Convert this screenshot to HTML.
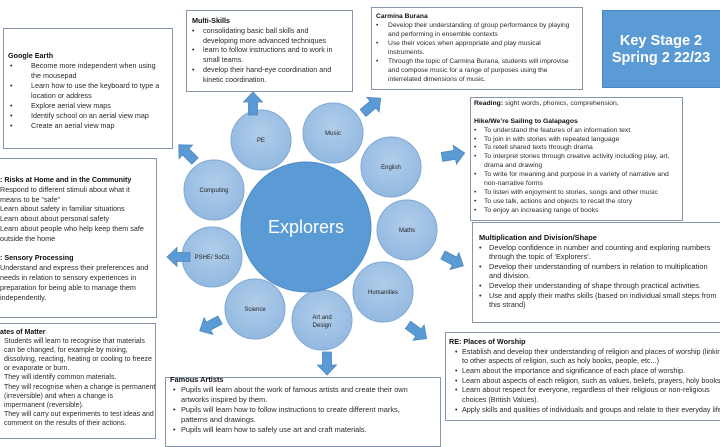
<!DOCTYPE html>
<html><head><meta charset="utf-8"><style>
*{margin:0;padding:0;box-sizing:border-box}
body{width:720px;height:440px;overflow:hidden;background:#fff;position:relative;font-family:"Liberation Sans",sans-serif;color:#222}
.b{position:absolute;border:1.3px solid #8796ad;background:#fff}
.t{position:absolute;font-size:7.2px;white-space:nowrap;color:#2a2a2a}
.t div{position:relative;height:var(--lh);line-height:var(--lh)}
.t .u::before{content:"•";position:absolute;left:var(--bl)}
.t b{font-weight:bold;color:#111}
svg{position:absolute;left:0;top:0}
</style></head><body>

<div class="b" style="left:3px;top:28px;width:170px;height:121px"></div>
<div class="b" style="left:186px;top:10px;width:167px;height:82px"></div>
<div class="b" style="left:371px;top:7px;width:212px;height:83px"></div>
<div class="b" style="left:470px;top:97px;width:213px;height:124px"></div>
<div class="b" style="left:-5px;top:158px;width:162px;height:160px"></div>
<div class="b" style="left:472px;top:222px;width:260px;height:101px"></div>
<div class="b" style="left:-5px;top:323px;width:161px;height:116px"></div>
<div class="b" style="left:165px;top:377px;width:276px;height:70px"></div>
<div class="b" style="left:445px;top:332px;width:290px;height:89px"></div>
<div style="position:absolute;left:602px;top:10px;width:130px;height:78px;background:#5b9bd5;border:1px solid #4a86bf"></div>
<div style="position:absolute;left:602px;top:33px;width:130px;text-align:center;padding-right:12px;color:#fff;font-weight:bold;font-size:14.5px;line-height:17px">Key Stage 2<br>Spring 2 22/23</div>

<div class="t" style="left:8px;top:51px;--lh:10px;--bl:0px">
<div><b>Google Earth</b></div>
<div class="u" style="padding-left:23px;--bl:2px">Become more independent when using</div>
<div style="padding-left:23px">the mousepad</div>
<div class="u" style="padding-left:23px;--bl:2px">Learn how to use the keyboard to type a</div>
<div style="padding-left:23px">location or address</div>
<div class="u" style="padding-left:23px;--bl:2px">Explore aerial view maps</div>
<div class="u" style="padding-left:23px;--bl:2px">Identify school on an aerial view map</div>
<div class="u" style="padding-left:23px;--bl:2px">Create an aerial view map</div>
</div>

<div class="t" style="left:192px;top:16px;--lh:9.8px;--bl:0px">
<div><b>Multi-Skills</b></div>
<div class="u" style="padding-left:11px">consolidating basic ball skills and</div>
<div style="padding-left:11px">developing more advanced techniques</div>
<div class="u" style="padding-left:11px">learn to follow instructions and to work in</div>
<div style="padding-left:11px">small teams.</div>
<div class="u" style="padding-left:11px">develop their hand-eye coordination and</div>
<div style="padding-left:11px">kinetic coordination.</div>
</div>

<div class="t" style="left:376px;top:12px;--lh:9px;--bl:0px;font-size:6.7px">
<div><b>Carmina Burana</b></div>
<div class="u" style="padding-left:12px">Develop their understanding of group performance by playing</div>
<div style="padding-left:12px">and performing in ensemble contexts</div>
<div class="u" style="padding-left:12px">Use their voices when appropriate and play musical</div>
<div style="padding-left:12px">instruments.</div>
<div class="u" style="padding-left:12px">Through the topic of Carmina Burana, students will improvise</div>
<div style="padding-left:12px">and compose music for a range of purposes using the</div>
<div style="padding-left:12px">interrelated dimensions of music.</div>
</div>

<div class="t" style="left:474px;top:100px;--lh:8.9px;--bl:0px;font-size:6.8px">
<div><b>Reading:</b> sight words, phonics, comprehension,</div>
<div></div>
<div><b>Hike/We’re Sailing to Galapagos</b></div>
<div class="u" style="padding-left:10px">To understand the features of an information text</div>
<div class="u" style="padding-left:10px">To join in with stories with repeated language</div>
<div class="u" style="padding-left:10px">To retell shared texts through drama</div>
<div class="u" style="padding-left:10px">To interpret stories through creative activity including play, art,</div>
<div style="padding-left:10px">drama and drawing</div>
<div class="u" style="padding-left:10px">To write for meaning and purpose in a variety of narrative and</div>
<div style="padding-left:10px">non-narrative forms</div>
<div class="u" style="padding-left:10px">To listen with enjoyment to stories, songs and other music</div>
<div class="u" style="padding-left:10px">To use talk, actions and objects to recall the story</div>
<div class="u" style="padding-left:10px">To enjoy an increasing range of books</div>
</div>

<div class="t" style="left:0px;top:175px;--lh:9.8px;--bl:-8px">
<div><b>: Risks at Home and in the Community</b></div>
<div class="u">Respond to different stimuli about what it</div>
<div>means to be “safe”</div>
<div class="u">Learn about safety in familiar situations</div>
<div class="u">Learn about about personal safety</div>
<div class="u">Learn about people who help keep them safe</div>
<div>outside the home</div>
<div></div>
<div><b>: Sensory Processing</b></div>
<div class="u">Understand and express their preferences and</div>
<div>needs in relation to sensory experiences in</div>
<div>preparation for being able to manage them</div>
<div>independently.</div>
</div>

<div class="t" style="left:479px;top:233px;--lh:9.6px;--bl:0px;font-size:7.4px">
<div><b>Multiplication and Division/Shape</b></div>
<div class="u" style="padding-left:10px">Develop confidence in number and counting and exploring numbers</div>
<div style="padding-left:10px">through the topic of ‘Explorers’.</div>
<div class="u" style="padding-left:10px">Develop their understanding of numbers in relation to multiplication</div>
<div style="padding-left:10px">and division.</div>
<div class="u" style="padding-left:10px">Develop their understanding of shape through practical activities.</div>
<div class="u" style="padding-left:10px">Use and apply their maths skills (based on individual small steps from</div>
<div style="padding-left:10px">this strand)</div>
</div>

<div class="t" style="left:449px;top:337px;--lh:9.7px;--bl:6px;font-size:7.2px">
<div><b>RE: Places of Worship</b></div>
<div class="u" style="padding-left:13px">Establish and develop their understanding of religion and places of worship (linking</div>
<div style="padding-left:13px">to other aspects of religion, such as holy books, people, etc...)</div>
<div class="u" style="padding-left:13px">Learn about the importance and significance of each place of worship.</div>
<div class="u" style="padding-left:13px">Learn about aspects of each religion, such as values, beliefs, prayers, holy books</div>
<div class="u" style="padding-left:13px">Learn about respect for everyone, regardless of their religious or non-religious</div>
<div style="padding-left:13px">choices (British Values).</div>
<div class="u" style="padding-left:13px">Apply skills and qualities of individuals and groups and relate to their everyday life</div>
</div>

<div class="t" style="left:170px;top:375px;--lh:10px;--bl:3px;font-size:7.4px">
<div><b>Famous Artists</b></div>
<div class="u" style="padding-left:11px">Pupils will learn about the work of famous artists and create their own</div>
<div style="padding-left:11px">artworks inspired by them.</div>
<div class="u" style="padding-left:11px">Pupils will learn how to follow instructions to create different marks,</div>
<div style="padding-left:11px">patterns and drawings.</div>
<div class="u" style="padding-left:11px">Pupils will learn how to safely use art and craft materials.</div>
</div>

<div class="t" style="left:0px;top:328px;--lh:9.1px;--bl:-8px;font-size:7px">
<div><b>ates of Matter</b></div>
<div class="u" style="padding-left:4px">Students will learn to recognise that materials</div>
<div style="padding-left:4px">can be changed, for example by mixing,</div>
<div style="padding-left:4px">dissolving, reacting, heating or cooling to freeze</div>
<div style="padding-left:4px">or evaporate or burn.</div>
<div class="u" style="padding-left:4px">They will identify common materials.</div>
<div class="u" style="padding-left:4px">They will recognise when a change is permanent</div>
<div style="padding-left:4px">(irreversible) and when a change is</div>
<div style="padding-left:4px">impermanent (reversible).</div>
<div class="u" style="padding-left:4px">They will carry out experiments to test ideas and</div>
<div style="padding-left:4px">comment on the results of their actions.</div>
</div>

<svg width="720" height="440" viewBox="0 0 720 440" font-family="Liberation Sans, sans-serif">
<defs>
<radialGradient id="g" cx="50%" cy="40%" r="60%"><stop offset="0" stop-color="#b0cdea"/><stop offset="1" stop-color="#93b9e0"/></radialGradient>
<polygon id="ar" points="0,-4.5 13,-4.5 13,-9.5 23,0 13,9.5 13,4.5 0,4.5" fill="#5b9bd5" stroke="#4a86bf" stroke-width="0.8"/>
</defs>
<g stroke="#7fa8d4" stroke-width="1" fill="url(#g)">
<circle cx="261" cy="140" r="30"/>
<circle cx="333" cy="133" r="30"/>
<circle cx="391" cy="167" r="30"/>
<circle cx="407" cy="230" r="30"/>
<circle cx="383" cy="292" r="30"/>
<circle cx="322" cy="320" r="30"/>
<circle cx="255" cy="309" r="30"/>
<circle cx="212" cy="257" r="30"/>
<circle cx="214" cy="190" r="30"/>
</g>
<circle cx="306" cy="227" r="65" fill="#5b9bd5" stroke="#4d8cc6"/>
<text x="306" y="233" font-size="18" fill="#fff" text-anchor="middle">Explorers</text>
<g font-size="6" fill="#222" text-anchor="middle">
<text x="261" y="142">PE</text>
<text x="333" y="135">Music</text>
<text x="391" y="169">English</text>
<text x="407" y="232">Maths</text>
<text x="383" y="294">Humanities</text>
<text x="322" y="319">Art and</text>
<text x="322" y="327">Design</text>
<text x="255" y="311">Science</text>
<text x="212" y="259">PSHE/ SoCo</text>
<text x="214" y="192">Computing</text>
</g>
<use href="#ar" transform="translate(253,115) rotate(-90)"/>
<use href="#ar" transform="translate(363,113) rotate(-40)"/>
<use href="#ar" transform="translate(195,161) rotate(-135)"/>
<use href="#ar" transform="translate(190,257) rotate(180)"/>
<use href="#ar" transform="translate(220,320) rotate(152)"/>
<use href="#ar" transform="translate(327,352) rotate(90)"/>
<use href="#ar" transform="translate(442,157) rotate(-10)"/>
<use href="#ar" transform="translate(443,255) rotate(28)"/>
<use href="#ar" transform="translate(408,325) rotate(36)"/>
</svg>
</body></html>
